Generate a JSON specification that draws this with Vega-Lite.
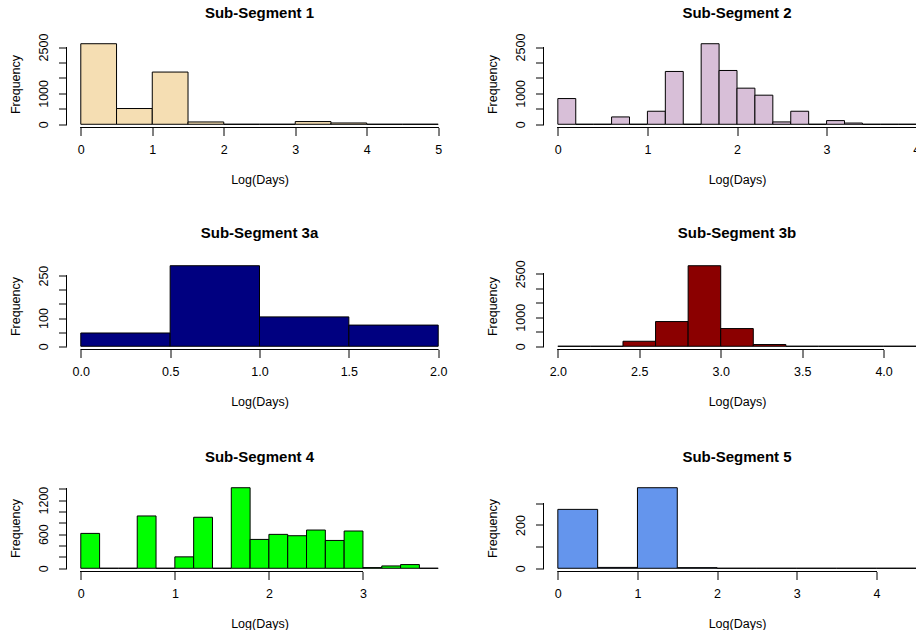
{
  "$schema": "https://vega.github.io/schema/vega-lite/v6.json",
  "background": "white",
  "padding": {"left": 8.5, "top": 5.5, "right": 0, "bottom": 0},
  "columns": 2,
  "spacing": {"row": 135, "column": 91},
  "bounds": "flush",
  "datasets": {
    "seg1": [
      {"start": 0.0, "end": 0.5, "count": 2607},
      {"start": 0.5, "end": 1.0, "count": 510},
      {"start": 1.0, "end": 1.5, "count": 1690},
      {"start": 1.5, "end": 2.0, "count": 75},
      {"start": 2.0, "end": 2.5, "count": 0},
      {"start": 2.5, "end": 3.0, "count": 0},
      {"start": 3.0, "end": 3.5, "count": 88},
      {"start": 3.5, "end": 4.0, "count": 42},
      {"start": 4.0, "end": 4.5, "count": 0},
      {"start": 4.5, "end": 5.0, "count": 0}
    ],
    "seg2": [
      {"start": 0.0, "end": 0.2, "count": 833},
      {"start": 0.2, "end": 0.4, "count": 0},
      {"start": 0.4, "end": 0.6, "count": 0},
      {"start": 0.6, "end": 0.8, "count": 238},
      {"start": 0.8, "end": 1.0, "count": 0},
      {"start": 1.0, "end": 1.2, "count": 422},
      {"start": 1.2, "end": 1.4, "count": 1710},
      {"start": 1.4, "end": 1.6, "count": 0},
      {"start": 1.6, "end": 1.8, "count": 2608},
      {"start": 1.8, "end": 2.0, "count": 1742},
      {"start": 2.0, "end": 2.2, "count": 1169},
      {"start": 2.2, "end": 2.4, "count": 942},
      {"start": 2.4, "end": 2.6, "count": 76},
      {"start": 2.6, "end": 2.8, "count": 422},
      {"start": 2.8, "end": 3.0, "count": 0},
      {"start": 3.0, "end": 3.2, "count": 119},
      {"start": 3.2, "end": 3.4, "count": 40},
      {"start": 3.4, "end": 3.6, "count": 0},
      {"start": 3.6, "end": 3.8, "count": 0},
      {"start": 3.8, "end": 4.0, "count": 0}
    ],
    "seg3a": [
      {"start": 0.0, "end": 0.5, "count": 47},
      {"start": 0.5, "end": 1.0, "count": 285},
      {"start": 1.0, "end": 1.5, "count": 104},
      {"start": 1.5, "end": 2.0, "count": 75}
    ],
    "seg3b": [
      {"start": 2.0, "end": 2.2, "count": 0},
      {"start": 2.2, "end": 2.4, "count": 0},
      {"start": 2.4, "end": 2.6, "count": 173},
      {"start": 2.6, "end": 2.8, "count": 852},
      {"start": 2.8, "end": 3.0, "count": 2776},
      {"start": 3.0, "end": 3.2, "count": 610},
      {"start": 3.2, "end": 3.4, "count": 60},
      {"start": 3.4, "end": 3.6, "count": 0},
      {"start": 3.6, "end": 3.8, "count": 0},
      {"start": 3.8, "end": 4.0, "count": 0},
      {"start": 4.0, "end": 4.2, "count": 0}
    ],
    "seg4": [
      {"start": 0.0, "end": 0.2, "count": 614},
      {"start": 0.2, "end": 0.4, "count": 0},
      {"start": 0.4, "end": 0.6, "count": 0},
      {"start": 0.6, "end": 0.8, "count": 921},
      {"start": 0.8, "end": 1.0, "count": 0},
      {"start": 1.0, "end": 1.2, "count": 201},
      {"start": 1.2, "end": 1.4, "count": 898},
      {"start": 1.4, "end": 1.6, "count": 0},
      {"start": 1.6, "end": 1.8, "count": 1418},
      {"start": 1.8, "end": 2.0, "count": 508},
      {"start": 2.0, "end": 2.2, "count": 597},
      {"start": 2.2, "end": 2.4, "count": 573},
      {"start": 2.4, "end": 2.6, "count": 673},
      {"start": 2.6, "end": 2.8, "count": 490},
      {"start": 2.8, "end": 3.0, "count": 656},
      {"start": 3.0, "end": 3.2, "count": 12},
      {"start": 3.2, "end": 3.4, "count": 41},
      {"start": 3.4, "end": 3.6, "count": 65},
      {"start": 3.6, "end": 3.8, "count": 0}
    ],
    "seg5": [
      {"start": 0.0, "end": 0.5, "count": 272},
      {"start": 0.5, "end": 1.0, "count": 4},
      {"start": 1.0, "end": 1.5, "count": 372},
      {"start": 1.5, "end": 2.0, "count": 3},
      {"start": 2.0, "end": 2.5, "count": 0},
      {"start": 2.5, "end": 3.0, "count": 0},
      {"start": 3.0, "end": 3.5, "count": 0},
      {"start": 3.5, "end": 4.0, "count": 0},
      {"start": 4.0, "end": 4.5, "count": 0}
    ]
  },
  "concat": [
    {
      "width": 386, "height": 87,
      "title": {"text": "Sub-Segment 1", "offset": 12},
      "data": {"name": "seg1"},
      "resolve": {"axis": {"x": "independent", "y": "independent"}},
      "layer": [
        {
          "mark": {"type": "bar", "fill": "#F5DEB3", "stroke": "#000", "strokeWidth": 1},
          "encoding": {
            "x": {"field": "start", "type": "quantitative", "scale": {"domain": [-0.2, 5.2], "nice": false, "zero": false},
                  "axis": {"values": [0, 1, 2, 3, 4, 5], "format": "d", "title": "Log(Days)"}},
            "x2": {"field": "end"},
            "y": {"field": "count", "type": "quantitative", "scale": {"domain": [-104.28, 2711.28], "nice": false, "zero": false},
                  "axis": {"values": [0, 500, 1000, 1500, 2000, 2500], "format": "d", "title": "Frequency",
                           "labelExpr": "indexof([0, 1000, 2500], datum.value) >= 0 ? datum.label : ''"}},
            "y2": {"datum": 0}
          }
        },
        {"mark": {"type": "rule", "color": "#000", "strokeWidth": 1},
         "encoding": {"x": {"datum": 0, "axis": null}, "x2": {"datum": 5}, "y": {"datum": -104.28, "axis": null}}},
        {"mark": {"type": "rule", "color": "#000", "strokeWidth": 1},
         "encoding": {"x": {"datum": -0.2, "axis": null}, "y": {"datum": 0, "axis": null}, "y2": {"datum": 2500}}}
      ]
    },
    {
      "width": 387, "height": 87,
      "title": {"text": "Sub-Segment 2", "offset": 12},
      "data": {"name": "seg2"},
      "resolve": {"axis": {"x": "independent", "y": "independent"}},
      "layer": [
        {
          "mark": {"type": "bar", "fill": "#D8BFD8", "stroke": "#000", "strokeWidth": 1},
          "encoding": {
            "x": {"field": "start", "type": "quantitative", "scale": {"domain": [-0.16, 4.16], "nice": false, "zero": false},
                  "axis": {"values": [0, 1, 2, 3, 4], "format": "d", "title": "Log(Days)"}},
            "x2": {"field": "end"},
            "y": {"field": "count", "type": "quantitative", "scale": {"domain": [-104.32, 2712.32], "nice": false, "zero": false},
                  "axis": {"values": [0, 500, 1000, 1500, 2000, 2500], "format": "d", "title": "Frequency",
                           "labelExpr": "indexof([0, 1000, 2500], datum.value) >= 0 ? datum.label : ''"}},
            "y2": {"datum": 0}
          }
        },
        {"mark": {"type": "rule", "color": "#000", "strokeWidth": 1},
         "encoding": {"x": {"datum": 0, "axis": null}, "x2": {"datum": 4}, "y": {"datum": -104.32, "axis": null}}},
        {"mark": {"type": "rule", "color": "#000", "strokeWidth": 1},
         "encoding": {"x": {"datum": -0.16, "axis": null}, "y": {"datum": 0, "axis": null}, "y2": {"datum": 2500}}}
      ]
    },
    {
      "width": 386, "height": 87,
      "title": {"text": "Sub-Segment 3a", "offset": 21.5},
      "data": {"name": "seg3a"},
      "resolve": {"axis": {"x": "independent", "y": "independent"}},
      "layer": [
        {
          "mark": {"type": "bar", "fill": "#000080", "stroke": "#000", "strokeWidth": 1},
          "encoding": {
            "x": {"field": "start", "type": "quantitative", "scale": {"domain": [-0.08, 2.08], "nice": false, "zero": false},
                  "axis": {"values": [0, 0.5, 1, 1.5, 2], "format": ".1f", "title": "Log(Days)"}},
            "x2": {"field": "end"},
            "y": {"field": "count", "type": "quantitative", "scale": {"domain": [-11.4, 296.4], "nice": false, "zero": false},
                  "axis": {"values": [0, 50, 100, 150, 200, 250], "format": "d", "title": "Frequency",
                           "labelExpr": "indexof([0, 100, 250], datum.value) >= 0 ? datum.label : ''"}},
            "y2": {"datum": 0}
          }
        },
        {"mark": {"type": "rule", "color": "#000", "strokeWidth": 1},
         "encoding": {"x": {"datum": 0, "axis": null}, "x2": {"datum": 2}, "y": {"datum": -11.4, "axis": null}}},
        {"mark": {"type": "rule", "color": "#000", "strokeWidth": 1},
         "encoding": {"x": {"datum": -0.08, "axis": null}, "y": {"datum": 0, "axis": null}, "y2": {"datum": 250}}}
      ]
    },
    {
      "width": 387, "height": 87,
      "title": {"text": "Sub-Segment 3b", "offset": 18.5},
      "data": {"name": "seg3b"},
      "resolve": {"axis": {"x": "independent", "y": "independent"}},
      "layer": [
        {
          "mark": {"type": "bar", "fill": "#8B0000", "stroke": "#000", "strokeWidth": 1},
          "encoding": {
            "x": {"field": "start", "type": "quantitative", "scale": {"domain": [1.912, 4.288], "nice": false, "zero": false},
                  "axis": {"values": [2, 2.5, 3, 3.5, 4], "format": ".1f", "title": "Log(Days)"}},
            "x2": {"field": "end"},
            "y": {"field": "count", "type": "quantitative", "scale": {"domain": [-111.04, 2887.04], "nice": false, "zero": false},
                  "axis": {"values": [0, 500, 1000, 1500, 2000, 2500], "format": "d", "title": "Frequency",
                           "labelExpr": "indexof([0, 1000, 2500], datum.value) >= 0 ? datum.label : ''"}},
            "y2": {"datum": 0}
          }
        },
        {"mark": {"type": "rule", "color": "#000", "strokeWidth": 1},
         "encoding": {"x": {"datum": 2, "axis": null}, "x2": {"datum": 4}, "y": {"datum": -111.04, "axis": null}}},
        {"mark": {"type": "rule", "color": "#000", "strokeWidth": 1},
         "encoding": {"x": {"datum": 1.912, "axis": null}, "y": {"datum": 0, "axis": null}, "y2": {"datum": 2500}}}
      ]
    },
    {
      "width": 386, "height": 87,
      "title": {"text": "Sub-Segment 4", "offset": 20},
      "data": {"name": "seg4"},
      "resolve": {"axis": {"x": "independent", "y": "independent"}},
      "layer": [
        {
          "mark": {"type": "bar", "fill": "#00FF00", "stroke": "#000", "strokeWidth": 1},
          "encoding": {
            "x": {"field": "start", "type": "quantitative", "scale": {"domain": [-0.152, 3.952], "nice": false, "zero": false},
                  "axis": {"values": [0, 1, 2, 3], "format": "d", "title": "Log(Days)"}},
            "x2": {"field": "end"},
            "y": {"field": "count", "type": "quantitative", "scale": {"domain": [-56.72, 1474.72], "nice": false, "zero": false},
                  "axis": {"values": [0, 200, 400, 600, 800, 1000, 1200, 1400], "format": "d", "title": "Frequency",
                           "labelExpr": "indexof([0, 600, 1200], datum.value) >= 0 ? datum.label : ''"}},
            "y2": {"datum": 0}
          }
        },
        {"mark": {"type": "rule", "color": "#000", "strokeWidth": 1},
         "encoding": {"x": {"datum": 0, "axis": null}, "x2": {"datum": 3}, "y": {"datum": -56.72, "axis": null}}},
        {"mark": {"type": "rule", "color": "#000", "strokeWidth": 1},
         "encoding": {"x": {"datum": -0.152, "axis": null}, "y": {"datum": 0, "axis": null}, "y2": {"datum": 1400}}}
      ]
    },
    {
      "width": 387, "height": 87,
      "title": {"text": "Sub-Segment 5", "offset": 20},
      "data": {"name": "seg5"},
      "resolve": {"axis": {"x": "independent", "y": "independent"}},
      "layer": [
        {
          "mark": {"type": "bar", "fill": "#6495ED", "stroke": "#000", "strokeWidth": 1},
          "encoding": {
            "x": {"field": "start", "type": "quantitative", "scale": {"domain": [-0.18, 4.68], "nice": false, "zero": false},
                  "axis": {"values": [0, 1, 2, 3, 4], "format": "d", "title": "Log(Days)"}},
            "x2": {"field": "end"},
            "y": {"field": "count", "type": "quantitative", "scale": {"domain": [-14.88, 386.88], "nice": false, "zero": false},
                  "axis": {"values": [0, 100, 200, 300], "format": "d", "title": "Frequency",
                           "labelExpr": "indexof([0, 200], datum.value) >= 0 ? datum.label : ''"}},
            "y2": {"datum": 0}
          }
        },
        {"mark": {"type": "rule", "color": "#000", "strokeWidth": 1},
         "encoding": {"x": {"datum": 0, "axis": null}, "x2": {"datum": 4}, "y": {"datum": -14.88, "axis": null}}},
        {"mark": {"type": "rule", "color": "#000", "strokeWidth": 1},
         "encoding": {"x": {"datum": -0.18, "axis": null}, "y": {"datum": 0, "axis": null}, "y2": {"datum": 300}}}
      ]
    }
  ],
  "config": {
    "font": "Liberation Sans",
    "view": {"stroke": null},
    "title": {"font": "Liberation Sans", "fontSize": 15, "fontWeight": "bold", "color": "#000",
              "anchor": "middle", "frame": "group", "baseline": "alphabetic"},
    "axis": {
      "domain": false, "grid": false,
      "tickColor": "#000", "tickWidth": 1, "tickSize": 8,
      "labelFont": "Liberation Sans", "labelFontSize": 12.5, "labelColor": "#000",
      "labelOverlap": false, "labelFlush": false, "labelBound": false,
      "titleFont": "Liberation Sans", "titleFontSize": 12.5, "titleFontWeight": "normal", "titleColor": "#000"
    },
    "axisX": {"labelPadding": 8, "titlePadding": 17},
    "axisY": {"labelAngle": 270, "labelAlign": "center", "labelBaseline": "bottom", "labelPadding": 8, "titlePadding": 15}
  }
}
